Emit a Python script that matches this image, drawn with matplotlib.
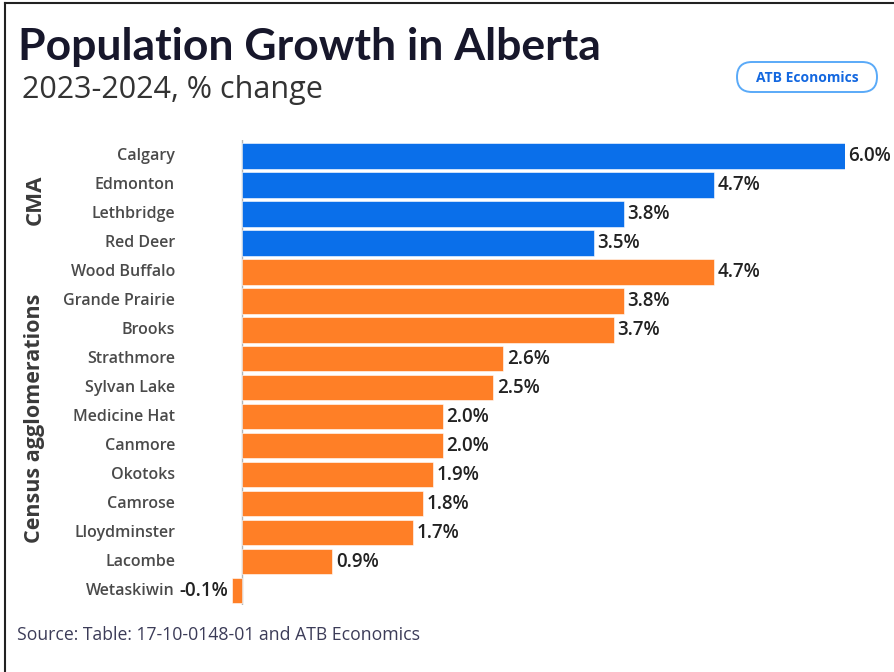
import matplotlib
matplotlib.use("Agg")
import matplotlib.pyplot as plt
from matplotlib.patches import FancyBboxPatch
from matplotlib.lines import Line2D
from matplotlib.transforms import IdentityTransform

# data
cities = ["Calgary", "Edmonton", "Lethbridge", "Red Deer", "Wood Buffalo",
          "Grande Prairie", "Brooks", "Strathmore", "Sylvan Lake", "Medicine Hat",
          "Canmore", "Okotoks", "Camrose", "Lloydminster", "Lacombe", "Wetaskiwin"]
growth = [6.0, 4.7, 3.8, 3.5, 4.7, 3.8, 3.7, 2.6, 2.5, 2.0, 2.0, 1.9, 1.8, 1.7, 0.9, -0.1]
n_cma = 4
group_names = ["CMA", "Census agglomerations"]

blue = "#0a6fea"
orange = "#ff7f26"
plt.rcParams['font.family'] = ['Open Sans', 'DejaVu Sans']

fig = plt.figure(figsize=(8.94, 6.72), dpi=100)
W, H = 894, 672
ax = fig.add_axes([232 / W, 67 / H, 613 / W, 465 / H])

ypos = list(range(len(cities)))
colors = [blue] * n_cma + [orange] * (len(cities) - n_cma)
ax.barh(ypos, growth, height=0.88, color=colors, edgecolor="white", linewidth=0.4)
ax.set_xlim(-0.1, 6.0)
ax.set_ylim(15.5, -0.55)
ax.axvline(0, color="#b5b5b5", lw=1.0, zorder=0)
ax.axis("off")

# city labels and values
for y, name, v in zip(ypos, cities, growth):
    ax.annotate(name, xy=(-0.1, y), xytext=(-41, 0), textcoords="offset points",
                ha="right", va="center", fontsize=11.5, color="#4a4a4a",
                fontweight="semibold", annotation_clip=False)
    if v >= 0:
        ax.annotate(f"{v:.1f}%", xy=(v, y), xytext=(2.5, 0), textcoords="offset points",
                    ha="left", va="center", fontsize=13.5, color="#222222",
                    fontweight="semibold", annotation_clip=False)
    else:
        ax.annotate(f"{v:.1f}%", xy=(v, y), xytext=(-3, 0), textcoords="offset points",
                    ha="right", va="center", fontsize=13.5, color="#222222",
                    fontweight="semibold", annotation_clip=False)

# group labels
fig.text(35 / W, 1 - 200 / H, group_names[0], rotation=90, ha="center", va="center",
         fontsize=16, fontweight="bold", color="#3a3a3a")
fig.text(35 / W, 1 - 418 / H, group_names[1], rotation=90, ha="center", va="center",
         fontsize=15.5, fontweight="bold", color="#3a3a3a")

# titles
fig.text(18 / W, 1 - 60 / H, "Population Growth in Alberta", ha="left", va="baseline",
         fontsize=32, fontweight="bold", color="#17172b", family=["Lato", "DejaVu Sans"])
fig.text(22 / W, 1 - 98 / H, "2023-2024, % change", ha="left", va="baseline",
         fontsize=22, color="#333333")
fig.text(17 / W, 1 - 640 / H, "Source: Table: 17-10-0148-01 and ATB Economics",
         ha="left", va="baseline", fontsize=12.7, color="#3c3c58")

# badge (pixel coordinates)
badge = FancyBboxPatch((737, H - 92), 140, 30,
                       boxstyle="round,pad=0,rounding_size=15",
                       transform=IdentityTransform(), facecolor="white",
                       edgecolor="#5aaaf8", lw=1.4)
fig.patches.append(badge)
fig.text(807 / W, 1 - 78 / H, "ATB Economics", ha="center", va="center",
         fontsize=10, fontweight="bold", color="#1468e0")

# screenshot border on left and top
fig.lines.append(Line2D([5 / W, 5 / W], [0, 1 - 3 / H], transform=fig.transFigure,
                        color="#222222", lw=1.5))
fig.lines.append(Line2D([5 / W, 1], [1 - 3 / H, 1 - 3 / H], transform=fig.transFigure,
                        color="#222222", lw=1.5))

fig.savefig("out.png", dpi=100)
